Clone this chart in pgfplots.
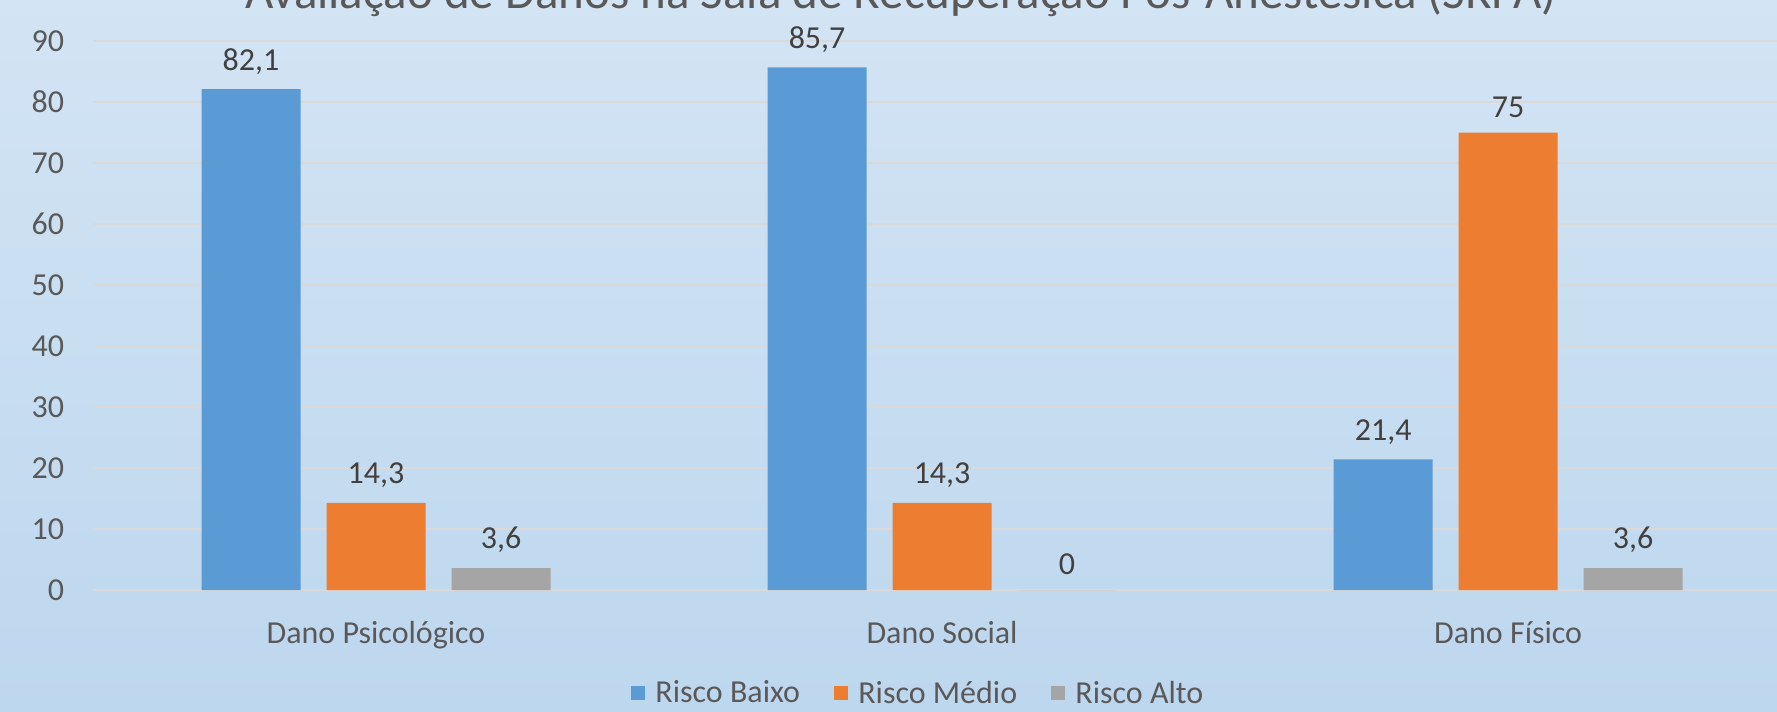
\documentclass[border=0pt]{standalone}
\usepackage{pgfplots}
\pgfplotsset{compat=1.18}
\usepackage{fontspec}
\setmainfont{Carlito}
\definecolor{cblue}{HTML}{5B9BD5}
\definecolor{corange}{HTML}{ED7D31}
\definecolor{cgray}{HTML}{A5A5A5}
\definecolor{bgtop}{HTML}{D3E4F4}
\definecolor{bgbot}{HTML}{BDD7EE}
\definecolor{txt}{HTML}{595959}
\definecolor{lbl}{HTML}{404040}
\definecolor{gridc}{HTML}{D9D9D9}
\begin{document}
\begin{tikzpicture}
\fill[top color=bgtop,bottom color=bgbot] (0pt,0pt) rectangle (710.8pt,284.4pt);
\begin{axis}[
  at={(37.2pt,48.4pt)}, anchor=south west, scale only axis,
  width=673.6pt, height=219.6pt,
  xmin=-0.5, xmax=2.475, ymin=0, ymax=90,
  ybar=10.4pt, bar width=39.6pt,
  xtick={0,1,2}, xticklabels={Dano Psicológico, Dano Social, Dano Físico},
  ytick={0,10,...,90},
  ymajorgrids, major grid style={gridc, line width=0.8pt},
  axis line style={draw=none}, major tick length=0,
  tick label style={font=\fontsize{12.8}{14}\selectfont, text=txt},
  yticklabel style={xshift=-8pt},
  xticklabel style={yshift=-9pt},
  /pgf/number format/.cd, use comma, assume math mode=true, /pgfplots/.cd,
  nodes near coords,
  nodes near coords style={font=\fontsize{12.8}{14}\selectfont, text=lbl, yshift=2.5pt},
  legend style={at={(0.491,-0.189)}, anchor=center, draw=none, fill=none,
    legend columns=3, font=\fontsize{12.8}{14}\selectfont, text=txt,
    /tikz/every even column/.append style={column sep=11.7pt},
    /tikz/every odd column/.append style={column sep=2pt}},
  legend image code/.code={\fill[#1] (0pt,-2.4pt) rectangle (5.6pt,3.2pt);},
]
\addplot[fill=cblue, draw=none] coordinates {(0,82.1) (1,85.7) (2,21.4)};
\addplot[fill=corange, draw=none] coordinates {(0,14.3) (1,14.3) (2,75)};
\addplot[fill=cgray, draw=none] coordinates {(0,3.6) (1,0) (2,3.6)};
\legend{Risco Baixo, Risco Médio, Risco Alto}
\end{axis}
\node[anchor=base, font=\fontsize{19.6}{22}\selectfont, text=txt] at (360.4pt,280.8pt) {Avaliação de Danos na Sala de Recuperação Pós-Anestésica (SRPA)};
\pgfresetboundingbox
\path[use as bounding box] (0pt,0pt) rectangle (710.8pt,284.4pt);
\end{tikzpicture}
\end{document}
